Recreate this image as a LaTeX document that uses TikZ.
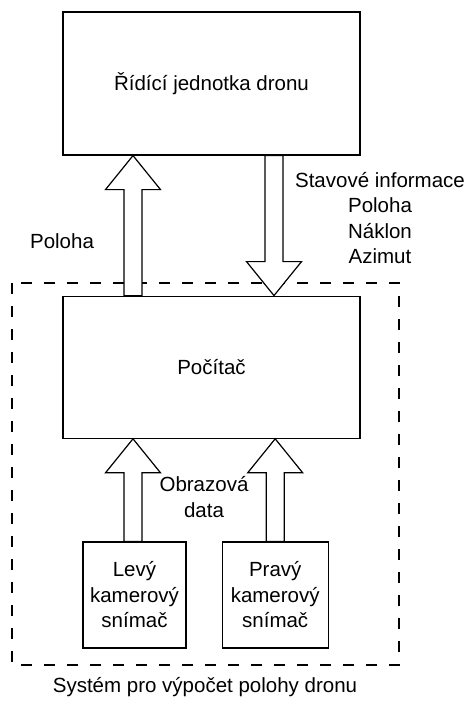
\documentclass[tikz,border=0pt]{standalone}
\usepackage{fontspec}
\setmainfont{Liberation Sans}
\usetikzlibrary{positioning,calc}
\def \hw {9pt}
\def \aw {27.5pt}
\def \al {34pt}
% block arrows between two points on one vertical
\newcommand{\blockup}[2]{\draw[blk] let \p1=(#1), \p2=(#2) in
  (\x1-\hw,\y1) -- (\x1+\hw,\y1) -- (\x1+\hw,\y2-\al) -- (\x1+\aw,\y2-\al)
  -- (\x1,\y2) -- (\x1-\aw,\y2-\al) -- (\x1-\hw,\y2-\al) -- cycle;}
\newcommand{\blockdown}[2]{\draw[blk] let \p1=(#1), \p2=(#2) in
  (\x1-\hw,\y1) -- (\x1+\hw,\y1) -- (\x1+\hw,\y2+\al) -- (\x1+\aw,\y2+\al)
  -- (\x1,\y2) -- (\x1-\aw,\y2+\al) -- (\x1-\hw,\y2+\al) -- cycle;}

\begin{document}
\begin{tikzpicture}[x=1pt,y=-1pt,node distance=140pt,
    font=\fontsize{20.5}{25.5}\selectfont,
    box/.style={draw,line width=1.2pt,align=center,inner sep=0pt},
    blk/.style={draw,fill=white,line width=1.2pt,line join=miter}]
  \useasboundingbox (0,0) rectangle (469,702);
  % system border
  \draw[line width=1.2pt,dash pattern=on 11pt off 12pt] (12,283) rectangle (399,665);
  \node[box,minimum width=297pt,minimum height=143pt] (ridici) at (211.5,83.5) {Řídící jednotka dronu};
  \node[box,minimum width=297pt,minimum height=142pt,below=140pt of ridici] (pc) {Počítač};
  \node[box,minimum width=103pt,minimum height=106pt] (levy) at (134.5,595) {Levý\\kamerový\\snímač};
  \node[box,minimum width=106pt,minimum height=106pt,right=35pt of levy] (pravy) {Pravý\\kamerový\\snímač};
  % arrows
  \coordinate (a1) at ([xshift=-78.5pt]pc.north);
  \coordinate (a2) at ([xshift=62.5pt]ridici.south);
  \coordinate (a3) at ([xshift=-1.5pt]levy.north);
  \blockup{a1}{a1 |- ridici.south}
  \blockdown{a2}{a2 |- pc.north}
  \blockup{a3}{a3 |- pc.south}
  \blockup{pravy.north}{pravy.north |- pc.south}
  % labels
  \node[align=center] (lpoloha) at (62,241) {Poloha};
  \node[align=center] (lstav) at (380,218) {Stavové informace\\Poloha\\Náklon\\Azimut};
  \node[align=center] (lobraz) at (204,497) {Obrazová\\data};
  \node (lsystem) at (205,687) {Systém pro výpočet polohy dronu};
\end{tikzpicture}
\end{document}
